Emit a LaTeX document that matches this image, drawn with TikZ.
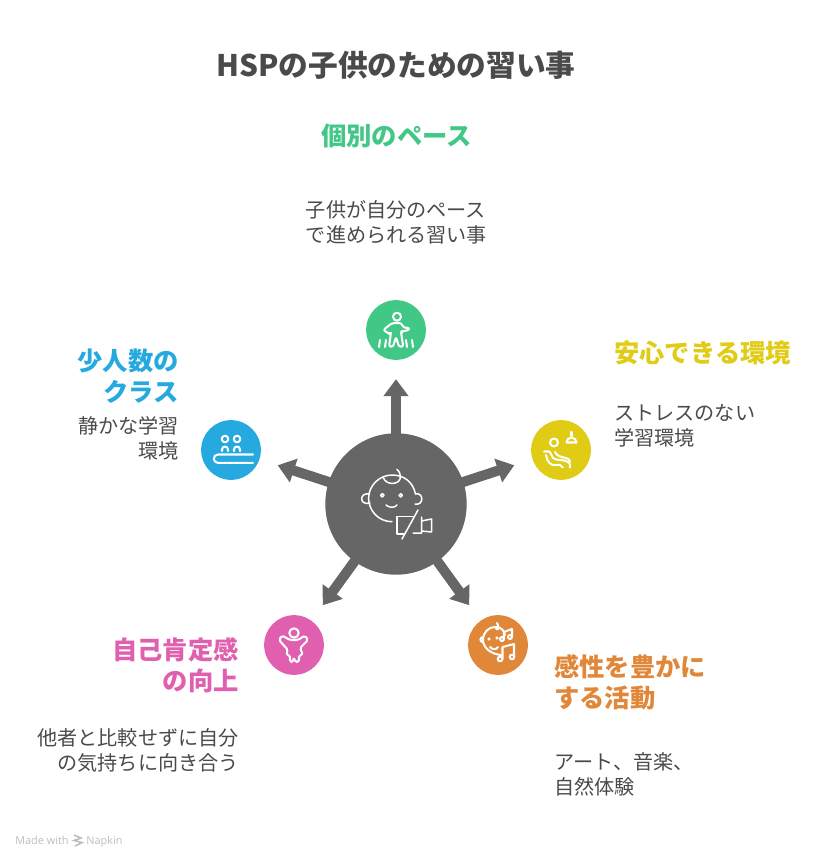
\documentclass[tikz,border=0pt]{standalone}
\usepackage{fontspec}
\setmainfont{Noto Sans CJK JP}
\newfontfamily\napkinfont{Open Sans}
\usetikzlibrary{arrows.meta}
\definecolor{hubgray}{HTML}{666666}
\definecolor{inkgray}{HTML}{4A4A4A}
\definecolor{markgray}{HTML}{BDBDBD}
\definecolor{pacegreen}{HTML}{41C886}
\definecolor{safeyellow}{HTML}{E0CB15}
\definecolor{artorange}{HTML}{E0873A}
\definecolor{selfpink}{HTML}{E05FAF}
\definecolor{classblue}{HTML}{25A9DE}
\tikzset{
  stepdot/.style={circle,minimum size=34pt,inner sep=0pt},
  hubdot/.style={circle,fill=hubgray,minimum size=80.5pt,inner sep=0pt},
  spoke/.style={draw=hubgray,line width=5.7pt,shorten >=19*0.5669pt,shorten <=-2pt,
    -{Triangle[length=9.6pt,width=13.6pt]}},
  headline/.style={inner sep=0pt,font=\fontsize{14.4}{17.5}\selectfont\bfseries},
  bodytext/.style={inner sep=0pt,text=inkgray,font=\fontsize{11.45}{14.2}\selectfont},
  marktext/.style={inner sep=0pt,text=markgray,anchor=base west,font=\fontsize{6.2}{7}\selectfont\napkinfont},
  iconline/.style={draw=white,line width=1.15pt,line cap=round,line join=round},
  hubline/.style={draw=white,line width=.85pt,line cap=round,line join=round},
}
\begin{document}
\begin{tikzpicture}[x=0.02cm,y=-0.02cm]
    \useasboundingbox (0,0) rectangle (816,858);
    % hub and steps
    \node[hubdot] (hub) at (396,504) {};
    \node[stepdot,fill=pacegreen] (pace) at (396,330) {};
    \node[stepdot,fill=safeyellow] (safe) at (561,450) {};
    \node[stepdot,fill=artorange] (art) at (498,645) {};
    \node[stepdot,fill=selfpink] (self) at (294,645) {};
    \node[stepdot,fill=classblue] (class) at (231,450) {};
    \foreach \n in {pace,safe,art,self,class}
        \draw[spoke] (hub) -- (\n);
    % texts
    \node[inner sep=0pt,text=inkgray,font=\fontsize{16.9}{20}\selectfont\bfseries] (title) at (396,65) {HSPの子供のための習い事};
    \node[headline,text=pacegreen] (pacehead) at (396.5,136) {個別のペース};
    \node[bodytext,align=left] (pacebody) at (396.5,222) {子供が自分のペース\\で進められる習い事};
    \node[headline,text=safeyellow,anchor=west] (safehead) at (614,353) {安心できる環境};
    \node[bodytext,align=left,anchor=west] (safebody) at (614,426) {ストレスのない\\学習環境};
    \node[headline,text=classblue,align=right,anchor=east] (classhead) at (179,376) {少人数の\\クラス};
    \node[bodytext,align=right,anchor=east] (classbody) at (179,438) {静かな学習\\環境};
    \node[headline,text=selfpink,align=right,anchor=east] (selfhead) at (239,665) {自己肯定感\\の向上};
    \node[bodytext,align=right,anchor=east] (selfbody) at (239,750) {他者と比較せずに自分\\の気持ちに向き合う};
    \node[headline,text=artorange,align=left,anchor=west] (arthead) at (554,682) {感性を豊かに\\する活動};
    \node[bodytext,align=left,anchor=west] (artbody) at (554,774) {アート、音楽、\\自然体験};
    \node[marktext] (made) at (15,844) {Made with};
    \node[marktext] (napkin) at (86,844) {Napkin};
    \draw[markgray,line width=.9pt] (74,835) -- (81,838) -- (74,840.5) -- (82,842.5) -- (75,846);
    % baby with muted speaker
    \begin{scope}[shift={(hub)},hubline]
        \draw (-4,17.7) .. controls (-18,17.7) and (-27.4,6) .. (-27.4,-5.7)
            .. controls (-27.4,-19) and (-16,-29) .. (-4,-29)
            .. controls (8,-29) and (17,-22) .. (19.5,-10);
        \draw (-26.5,-10) .. controls (-37,-12) and (-37,2) .. (-26,-1);
        \draw (19.5,-10) .. controls (28,-12) and (28,2) .. (19,0);
        \draw (-13.7,-8.7) circle (1.7);
        \draw (4.7,-8.7) circle (1.7);
        \draw (-10,1) .. controls (-7,4) and (-1,4) .. (1,1);
        \draw (-12.5,-26) .. controls (-10,-19) and (2,-19) .. (4,-25)
            .. controls (5,-30) and (3,-33) .. (1,-34.5);
        \draw (17,12.5) -- (1,12.5) -- (1,30) -- (8,30);
        \draw (22,6) -- (6,35);
        \draw (17,29) -- (25.5,29) -- (25.5,13) -- (25.5,17) -- (35.5,15) -- (35.5,28) -- (25.5,27);
    \end{scope}
    % walker
    \begin{scope}[shift={(pace)},iconline]
        \draw (1,-13.3) circle (4);
        \draw[rounded corners=1.2pt] (-4,-7) -- (5,-7) -- (8,-2) -- (13,-2.5) -- (12.5,.5) -- (6,1) -- (5,2.5)
            -- (7.3,16.7) -- (3,16.7) -- (0,7) -- (-3,16.7) -- (-7,16.7) -- (-5,3) -- (-6.5,4) -- (-12.7,0) -- cycle;
        \foreach \x/\d in {-16/1,-10/1,10/-1,16/-1}
            \draw (\x,10) -- ++(-\d,7);
    \end{scope}
    % seat and lamp
    \begin{scope}[shift={(safe)},iconline]
        \draw (-7,-7.5) circle (4);
        \draw (10.5,-18) -- (10.5,-14);
        \draw (5.5,-7.5) arc (180:360:5) -- cycle;
        \draw (-17,1.5) -- (-12,1.5) .. controls (-10,2) and (-10,6) .. (-8,8) .. controls (-5,11) and (3,9) .. (7,12) .. controls (9,13) and (9,15) .. (9,17.5);
        \draw (-15,5) .. controls (-14,12) and (-10,16) .. (-5,15) .. controls (-2,14) and (0,15) .. (2,17.5);
        \draw (-6,2) .. controls (-4,6) and (0,7) .. (5,8) .. controls (8,9) and (9,10) .. (9,12);
    \end{scope}
    % two pupils at a table
    \begin{scope}[shift={(class)},iconline]
        \draw (-6,-11) circle (3.3);
        \draw (6,-11) circle (3.3);
        \draw (-9,1) -- (-9,-.5) arc (180:360:3) -- (-3,1);
        \draw (3,1) -- (3,-.5) arc (180:360:3) -- (9,1);
        \draw (22,4.5) -- (-13,4.5) arc (270:90:4.2) -- (22,12.9);
    \end{scope}
    % child with arms up
    \begin{scope}[shift={(self)},iconline]
        \draw (0,-12) circle (4.7);
        \draw[rounded corners=1pt] (-4,-5) -- (-12,-9.5) -- (-15,-5) -- (-6,5) -- (-8,10) -- (-4,10) -- (-4,17) -- (-1,17) -- (0,12)
            -- (1,17) -- (5,17) -- (5,10) -- (9,10) -- (6,3) -- (14,-5) -- (11,-9.5) -- (4,-5) -- cycle;
    \end{scope}
    % baby with notes
    \begin{scope}[shift={(art)},iconline]
        \draw (3,10) .. controls (-8,9) and (-15,2) .. (-15,-5) .. controls (-15,-13) and (-9,-18) .. (-3,-18)
            .. controls (3,-18) and (6,-15) .. (7,-10);
        \draw (-15,-8) arc (270:90:2.6);
        \draw (-3,-18) .. controls (0,-13) and (2,-16) .. (-1,-22);
        \draw (-9,-6) circle (.6);
        \draw (-1,-7) circle (.6);
        \draw (-8,2) .. controls (-5,5) and (-2,5) .. (0,2);
        \draw (4,-6) circle (2);
        \draw (12,-8) circle (2);
        \draw (6,-6) -- (6,-13) -- (14,-16) -- (14,-8);
        \draw (2,14) circle (2.3);
        \draw (14,12) circle (2.3);
        \draw (4.5,14) -- (4.5,2) -- (16,-1) -- (16,12);
    \end{scope}
\end{tikzpicture}
\end{document}
